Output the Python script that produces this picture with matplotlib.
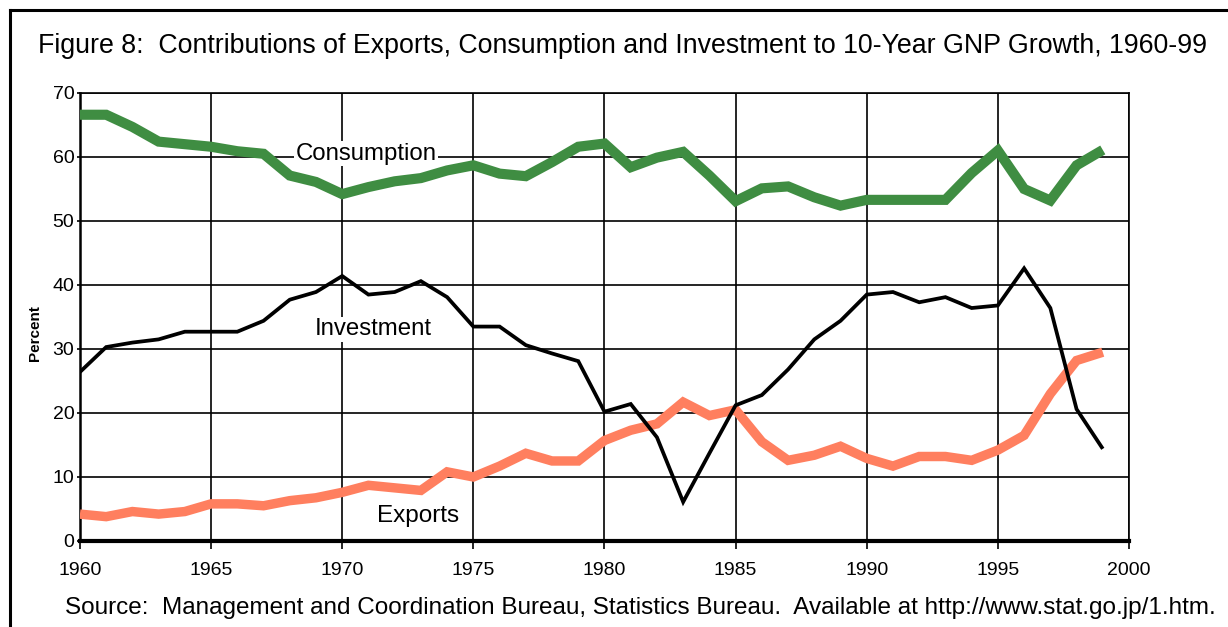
import numpy as np
import matplotlib.pyplot as plt
from matplotlib.lines import Line2D

plt.rcParams['font.family'] = ['Liberation Sans', 'DejaVu Sans']

years = list(range(1960, 2000))

consumption = [66.6, 66.6, 64.7, 62.4, 62.0, 61.6, 60.9, 60.5, 57.1, 56.1,
               54.2, 55.3, 56.2, 56.7, 57.9, 58.7, 57.4, 57.0, 59.2, 61.6,
               62.1, 58.4, 59.9, 60.8, 57.1, 53.1, 55.1, 55.4, 53.7, 52.4,
               53.3, 53.3, 53.3, 53.3, 57.5, 61.0, 55.0, 53.2, 58.7, 61.1]

investment = [26.4, 30.3, 31.0, 31.5, 32.7, 32.7, 32.7, 34.4, 37.7, 38.9,
              41.4, 38.5, 38.9, 40.6, 38.1, 33.5, 33.5, 30.6, 29.3, 28.1,
              20.2, 21.4, 16.2, 6.1, 13.7, 21.2, 22.8, 26.8, 31.5, 34.4,
              38.5, 38.9, 37.3, 38.1, 36.4, 36.8, 42.6, 36.4, 20.6, 14.4]

exports = [4.2, 3.8, 4.6, 4.2, 4.6, 5.8, 5.8, 5.5, 6.3, 6.75,
           7.6, 8.7, 8.3, 7.9, 10.8, 10.0, 11.7, 13.7, 12.5, 12.5,
           15.7, 17.3, 18.3, 21.7, 19.6, 20.5, 15.5, 12.6, 13.4, 14.8,
           12.9, 11.7, 13.2, 13.2, 12.6, 14.2, 16.5, 23.0, 28.2, 29.5]

x_ticks = [1960, 1965, 1970, 1975, 1980, 1985, 1990, 1995, 2000]
y_ticks = [0, 10, 20, 30, 40, 50, 60, 70]

title = "Figure 8:  Contributions of Exports, Consumption and Investment to 10-Year GNP Growth, 1960-99"
source = "Source:  Management and Coordination Bureau, Statistics Bureau.  Available at http://www.stat.go.jp/1.htm."

fig = plt.figure(figsize=(12.28, 6.27), dpi=100)
ax = fig.add_axes([0.0651, 0.1372, 0.8543, 0.7145])

ax.plot(years, consumption, color='#3f8d42', lw=7.3, solid_joinstyle='miter', solid_capstyle='butt', zorder=3)
ax.plot(years, exports, color='#ff7f5f', lw=6.8, solid_joinstyle='miter', solid_capstyle='butt', zorder=3)
ax.plot(years, investment, color='black', lw=2.7, solid_joinstyle='miter', solid_capstyle='butt', zorder=4)

ax.set_xlim(1960, 2000)
ax.set_ylim(0, 70)
ax.set_xticks(x_ticks)
ax.set_yticks(y_ticks)
ax.grid(True, color='black', lw=1.2, zorder=1)
ax.tick_params(axis='both', labelsize=14, width=1.2, color='black')
ax.tick_params(axis='x', length=6, pad=9)
ax.tick_params(axis='y', length=2, pad=2)
for s in ['top', 'right']:
    ax.spines[s].set_linewidth(1.2)
ax.spines['left'].set_linewidth(1.8)
ax.spines['bottom'].set_linewidth(3)

box = dict(facecolor='white', edgecolor='none', pad=1)
ax.text(1970.9, 60.5, 'Consumption', fontsize=17.3, ha='center', va='center', bbox=box, zorder=5)
ax.text(1971.2, 33.1, 'Investment', fontsize=17.3, ha='center', va='center', bbox=box, zorder=5)
ax.text(1972.9, 3.9, 'Exports', fontsize=17.5, ha='center', va='center', zorder=5)

fig.text(0.0285, 0.469, 'Percent', rotation=90, fontsize=11, fontweight='bold', ha='center', va='center')
fig.text(0.031, 0.926, title, fontsize=19.3, ha='left', va='center')
fig.text(0.053, 0.030, source, fontsize=17.5, ha='left', va='center')

# frame round the figure (top and left only, as in the original)
fig.add_artist(Line2D([10 / 1228, 1], [1 - 10 / 627, 1 - 10 / 627], color='black', lw=2.2, transform=fig.transFigure))
fig.add_artist(Line2D([10 / 1228, 10 / 1228], [0, 1 - 10 / 627], color='black', lw=2.2, transform=fig.transFigure))

fig.savefig('out.png', dpi=100)
